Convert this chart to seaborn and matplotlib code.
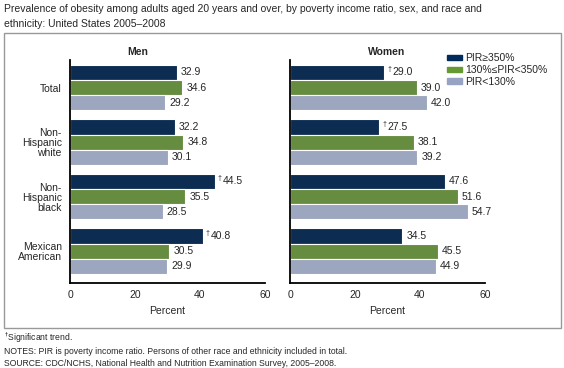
import matplotlib
matplotlib.use("Agg")
import matplotlib.pyplot as plt
import matplotlib.patches as mpatches
import seaborn as sns
import pandas as pd

# Daten
groups = ["Total", "Non-\nHispanic\nwhite", "Non-\nHispanic\nblack", "Mexican\nAmerican"]
pir_levels = ["PIR≥350%", "130%≤PIR<350%", "PIR<130%"]

men_high = [32.9, 32.2, 44.5, 40.8]
men_mid = [34.6, 34.8, 35.5, 30.5]
men_low = [29.2, 30.1, 28.5, 29.9]

women_high = [29.0, 27.5, 47.6, 34.5]
women_mid = [39.0, 38.1, 51.6, 45.5]
women_low = [42.0, 39.2, 54.7, 44.9]

# Signifikanter Trend (Dolch) – nur bei PIR>=350%
men_sig = [False, False, True, True]
women_sig = [True, True, False, False]

xticks = [0, 20, 40, 60]
palette = {"PIR≥350%": "#002b5c", "130%≤PIR<350%": "#669933", "PIR<130%": "#97a3c5"}


def to_long(high, mid, low):
    rows = []
    for lvl, vals in zip(pir_levels, [high, mid, low]):
        for g, v in zip(groups, vals):
            rows.append({"group": g, "pir": lvl, "value": v})
    return pd.DataFrame(rows)


sns.set_style("white")
plt.rcParams["font.family"] = ["Liberation Sans", "DejaVu Sans"]

W, H = 564, 368
fig = plt.figure(figsize=(W / 100, H / 100), dpi=100)


def px_axes(x0, x1, ytop, ybot):
    return fig.add_axes([x0 / W, 1 - ybot / H, (x1 - x0) / W, (ybot - ytop) / H])


def draw_panel(ax, df, sig, show_labels):
    sns.barplot(
        data=df, y="group", x="value", hue="pir", order=groups, hue_order=pir_levels,
        palette=palette, orient="h", width=0.83, edgecolor="white", linewidth=0.8,
        legend=False, ax=ax,
    )
    ax.set_xlim(0, 60)
    ax.set_ylim(3.585, -0.505)
    ax.set_xticks(xticks)
    ax.tick_params(axis="x", direction="in", length=5, width=1.2, labelsize=7.5, pad=5)
    ax.tick_params(axis="y", length=0, labelsize=7.5, pad=6)
    if show_labels:
        ax.set_yticks(range(len(groups)))
        ax.set_yticklabels(groups, ha="right", linespacing=1.0)
    else:
        ax.set_yticklabels([])
    ax.set_xlabel("Percent", fontsize=7.5, labelpad=4)
    ax.set_ylabel("")
    for s in ["top", "right"]:
        ax.spines[s].set_visible(False)
    for s in ["left", "bottom"]:
        ax.spines[s].set_color("black")
        ax.spines[s].set_linewidth(1.3)

    # Werte beschriften
    for ci, cont in enumerate(ax.containers):
        for bi, bar in enumerate(cont):
            w = bar.get_width()
            yc = bar.get_y() + bar.get_height() / 2
            off = 3
            if ci == 0 and sig[bi]:
                ax.annotate("†", (w, yc), xytext=(2, 2), textcoords="offset points",
                            fontsize=5, ha="left", va="center")
                off = 6
            ax.annotate(f"{w:.1f}", (w, yc), xytext=(off, 0), textcoords="offset points",
                        fontsize=7.5, ha="left", va="center")


ax_m = px_axes(70, 265, 60, 283)
ax_w = px_axes(290, 485, 60, 283)
draw_panel(ax_m, to_long(men_high, men_mid, men_low), men_sig, True)
draw_panel(ax_w, to_long(women_high, women_mid, women_low), women_sig, False)

fig.text(138 / W, 1 - 52 / H, "Men", fontsize=7.5, fontweight="bold", ha="center", va="center")
fig.text(387 / W, 1 - 52 / H, "Women", fontsize=7.5, fontweight="bold", ha="center", va="center")

# Legende
handles = [mpatches.Patch(color=palette[l], label=l) for l in pir_levels]
fig.legend(handles=handles, loc="upper left", bbox_to_anchor=(443 / W, 1 - 49 / H),
           frameon=False, fontsize=7.5, handlelength=1.4, handleheight=0.45,
           handletextpad=0.35, labelspacing=0.18, borderaxespad=0)

# Rahmen
fig.add_artist(mpatches.Rectangle((4 / W, 1 - 328 / H), 557 / W, 295 / H, transform=fig.transFigure,
                                  fill=False, edgecolor="#999999", linewidth=1.0))

# Titel
fig.text(4 / W, 1 - 4 / H,
         "Prevalence of obesity among adults aged 20 years and over, by poverty income ratio, sex, and race and\n"
         "ethnicity: United States 2005–2008",
         fontsize=7.5, ha="left", va="top", linespacing=1.6)

# Fußnoten
fig.text(4 / W, 1 - 338 / H, "$^{\\dagger}$Significant trend.", fontsize=6.2, ha="left", va="center")
fig.text(4 / W, 1 - 351 / H, "NOTES: PIR is poverty income ratio. Persons of other race and ethnicity included in total.",
         fontsize=6.2, ha="left", va="center")
fig.text(4 / W, 1 - 363 / H, "SOURCE: CDC/NCHS, National Health and Nutrition Examination Survey, 2005–2008.",
         fontsize=6.2, ha="left", va="center")

fig.savefig("out.png", dpi=100)
